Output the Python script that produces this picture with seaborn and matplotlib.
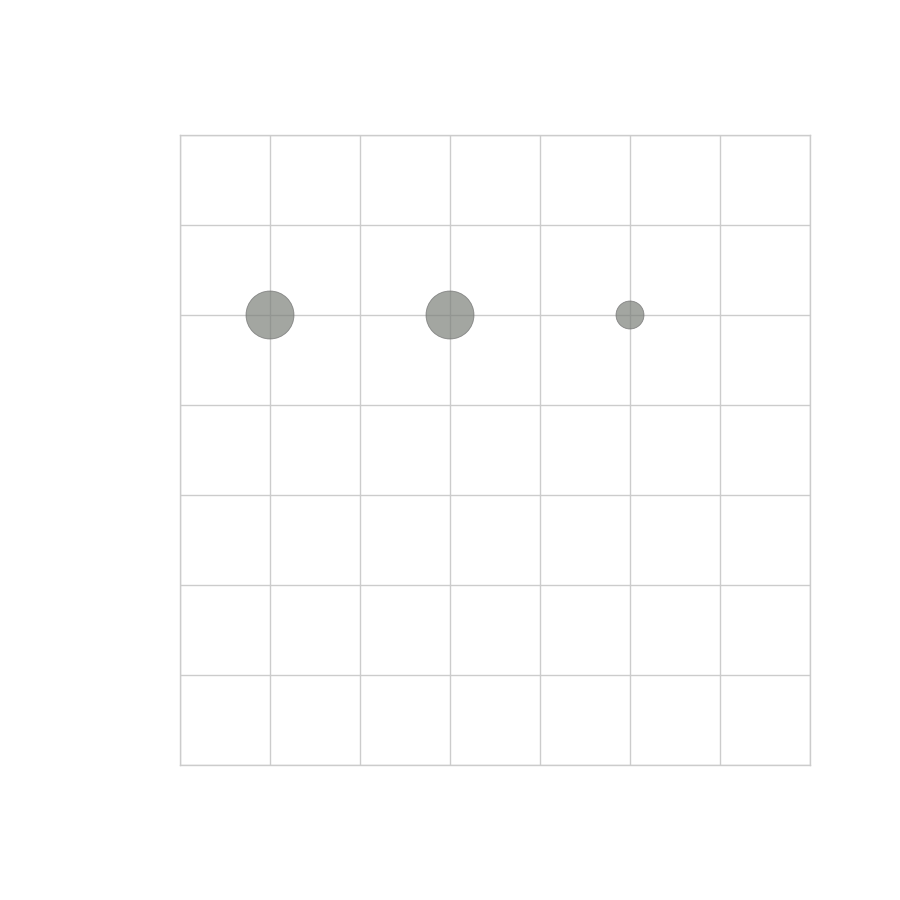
import matplotlib
matplotlib.use("Agg")
import matplotlib.pyplot as plt
import seaborn as sns
import pandas as pd

x_vals = [1, 3, 5]
y_vals = [5, 5, 5]
size_vals = [2, 2, 1]

df = pd.DataFrame({"x": x_vals, "y": y_vals, "s": size_vals})

sns.set_style("whitegrid")
fig = plt.figure(figsize=(9, 9), dpi=100)
ax = fig.add_axes([0.2, 0.15, 0.7, 0.7])

sns.scatterplot(data=df, x="x", y="y", size="s", sizes={1: 406, 2: 1194},
                color="#7c807a", alpha=0.7, edgecolor="#6a6a6a", linewidth=0.6,
                legend=False, ax=ax, zorder=3)

ax.set_xlim(0, 7)
ax.set_ylim(0, 7)
ax.set_xticks(range(0, 8))
ax.set_yticks(range(0, 8))
ax.set_xticklabels([])
ax.set_yticklabels([])
ax.tick_params(length=0)
ax.set_xlabel("")
ax.set_ylabel("")
ax.grid(True, color="#cccccc", linewidth=1)
for sp in ax.spines.values():
    sp.set_color("#cccccc")
    sp.set_linewidth(1)

fig.savefig("out.png", dpi=100)
